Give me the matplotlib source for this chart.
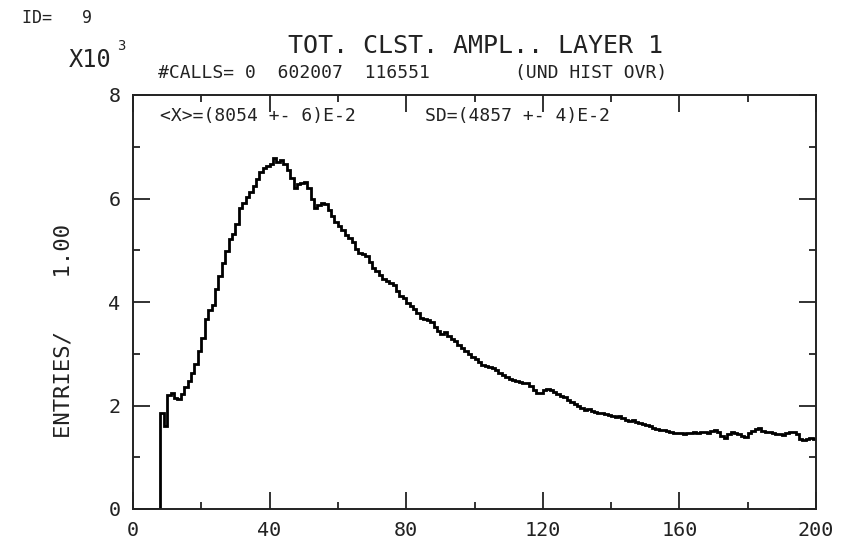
import numpy as np
import matplotlib
matplotlib.use('Agg')
import matplotlib.pyplot as plt
from matplotlib.ticker import MultipleLocator

# ---------------- data (entries per bin, in units of 10^3) ----------------
bin_lo = 0
bin_hi = 200
counts_0_39 = [0, 0, 0, 0, 0, 0, 0, 0, 1.85, 1.60,
               2.20, 2.24, 2.15, 2.12, 2.22, 2.35, 2.48, 2.62, 2.80, 3.05,
               3.30, 3.68, 3.85, 3.95, 4.25, 4.50, 4.75, 4.98, 5.22, 5.32,
               5.50, 5.82, 5.92, 6.02, 6.12, 6.25, 6.38, 6.52, 6.58, 6.62]
counts_40_79 = [6.66, 6.78, 6.70, 6.74, 6.66, 6.55, 6.40, 6.20, 6.28, 6.30,
                6.32, 6.20, 6.00, 5.82, 5.88, 5.92, 5.90, 5.78, 5.66, 5.55,
                5.46, 5.40, 5.30, 5.24, 5.15, 5.02, 4.95, 4.92, 4.88, 4.78,
                4.66, 4.60, 4.52, 4.45, 4.40, 4.36, 4.32, 4.22, 4.12, 4.08]
counts_80_119 = [3.98, 3.92, 3.86, 3.78, 3.70, 3.68, 3.66, 3.62, 3.52, 3.44,
                 3.38, 3.42, 3.34, 3.28, 3.24, 3.16, 3.12, 3.06, 3.00, 2.93,
                 2.90, 2.84, 2.79, 2.76, 2.74, 2.72, 2.68, 2.62, 2.58, 2.56,
                 2.52, 2.49, 2.47, 2.46, 2.44, 2.43, 2.38, 2.30, 2.24, 2.25]
counts_120_159 = [2.30, 2.31, 2.29, 2.26, 2.22, 2.18, 2.16, 2.10, 2.06, 2.02,
                  2.00, 1.96, 1.92, 1.93, 1.90, 1.88, 1.86, 1.86, 1.84, 1.82,
                  1.80, 1.78, 1.80, 1.76, 1.72, 1.70, 1.72, 1.68, 1.66, 1.65,
                  1.62, 1.60, 1.56, 1.54, 1.53, 1.52, 1.50, 1.48, 1.47, 1.46]
counts_160_199 = [1.46, 1.45, 1.47, 1.46, 1.48, 1.47, 1.49, 1.48, 1.46, 1.50,
                  1.52, 1.48, 1.42, 1.37, 1.44, 1.49, 1.46, 1.44, 1.42, 1.40,
                  1.46, 1.50, 1.54, 1.56, 1.50, 1.48, 1.49, 1.47, 1.45, 1.44,
                  1.43, 1.46, 1.48, 1.49, 1.44, 1.36, 1.33, 1.35, 1.37, 1.36]
counts = counts_0_39 + counts_40_79 + counts_80_119 + counts_120_159 + counts_160_199

x_ticks = [0, 40, 80, 120, 160, 200]
y_ticks = [0, 2, 4, 6, 8]

# ---------------- figure ----------------
W, H = 850, 544
fig = plt.figure(figsize=(W / 100, H / 100), dpi=100)
mono = 'DejaVu Sans Mono'
ink = '#222222'


def px(x, y):
    # pixel position (from top-left) -> figure fraction
    return x / W, 1 - y / H


ax = fig.add_axes([133 / W, 1 - 509 / H, (816 - 133) / W, (509 - 95) / H])
edges = np.arange(bin_lo, bin_hi + 1)
ax.stairs(counts, edges, baseline=None, color='black', linewidth=2.0)

ax.set_xlim(bin_lo, bin_hi)
ax.set_ylim(0, 8)
ax.set_xticks(x_ticks)
ax.set_yticks(y_ticks)
ax.xaxis.set_minor_locator(MultipleLocator(20))
ax.yaxis.set_minor_locator(MultipleLocator(1))
ax.tick_params(which='both', direction='in', top=True, right=True,
               colors=ink, width=1.3)
ax.tick_params(which='major', length=12, labelsize=14.5, pad=9)
ax.tick_params(which='minor', length=5)
for lab in ax.get_xticklabels() + ax.get_yticklabels():
    lab.set_family(mono)
for sp in ax.spines.values():
    sp.set_linewidth(1.4)
    sp.set_color(ink)

# ---------------- texts ----------------
fig.text(*px(22, 18), 'ID=   9', family=mono, fontsize=12, color=ink, va='center')
fig.text(*px(69, 60), 'X10', family=mono, fontsize=17, color=ink, va='center')
fig.text(*px(117, 46), '3', family=mono, fontsize=10, color=ink, va='center')
fig.text(*px(475, 46), 'TOT. CLST. AMPL.. LAYER 1', family=mono, fontsize=18,
         color=ink, ha='center', va='center')
fig.text(*px(158, 73), '#CALLS= 0  602007  116551', family=mono, fontsize=13,
         color=ink, va='center')
fig.text(*px(515, 73), '(UND HIST OVR)', family=mono, fontsize=13,
         color=ink, va='center')
fig.text(*px(160, 116), '<X>=(8054 +- 6)E-2', family=mono, fontsize=13,
         color=ink, va='center')
fig.text(*px(425, 116), 'SD=(4857 +- 4)E-2', family=mono, fontsize=13,
         color=ink, va='center')
fig.text(*px(64, 331), 'ENTRIES/    1.00', family=mono, fontsize=16,
         color=ink, ha='center', va='center', rotation=90)

fig.savefig('out.png', dpi=100)
